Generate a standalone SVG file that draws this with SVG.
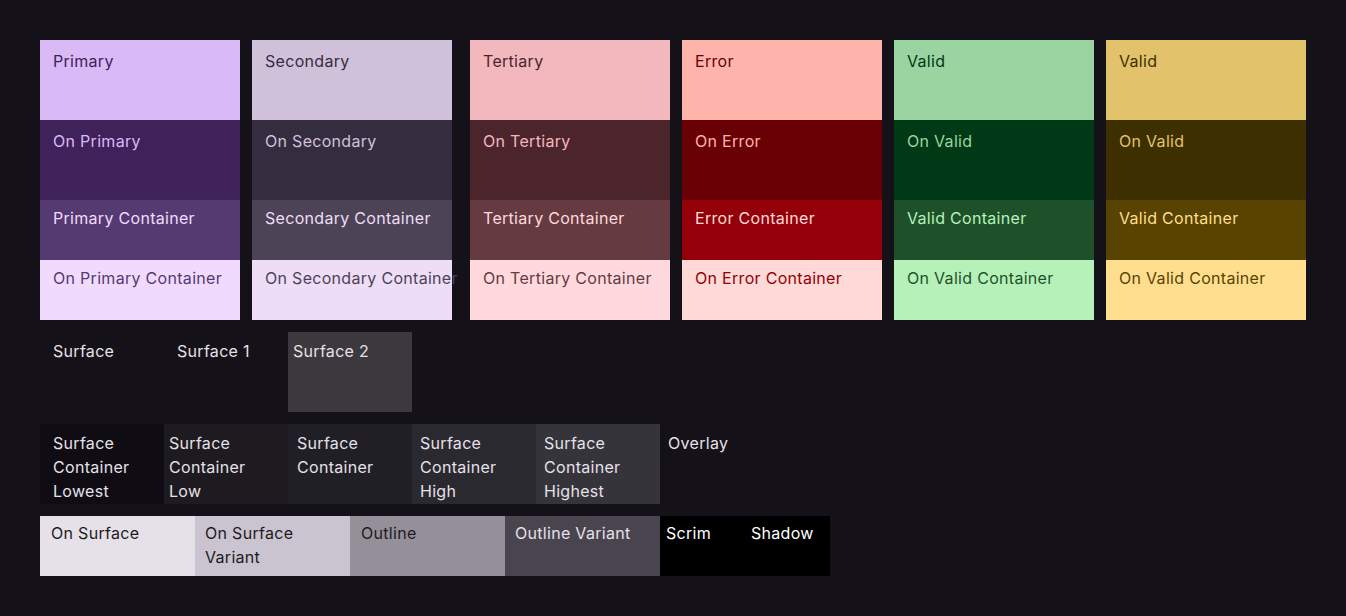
<svg xmlns="http://www.w3.org/2000/svg" width="1346" height="616" viewBox="0 0 1346 616">
<style>
text{font-family:Inter,"Noto Sans","Liberation Sans",sans-serif;font-size:16px;letter-spacing:0.3px}
</style>
<rect x="0" y="0" width="1346" height="616" fill="#141218"/>
<g id="primary">
<rect x="40" y="40" width="200" height="80" fill="#DAB9F7"/><text x="53" y="67" fill="#3E2259">Primary</text>
<rect x="40" y="120" width="200" height="80" fill="#3E2259"/><text x="53" y="147" fill="#DAB9F7">On Primary</text>
<rect x="40" y="200" width="200" height="60" fill="#553A71"/><text x="53" y="224" fill="#F0DBFF">Primary Container</text>
<rect x="40" y="260" width="200" height="60" fill="#F0DBFF"/><text x="53" y="284" fill="#553A71">On Primary Container</text>
</g>
<g id="secondary">
<rect x="252" y="40" width="200" height="80" fill="#D0C1DA"/><text x="265" y="67" fill="#362C3F">Secondary</text>
<rect x="252" y="120" width="200" height="80" fill="#362C3F"/><text x="265" y="147" fill="#D0C1DA">On Secondary</text>
<rect x="252" y="200" width="200" height="60" fill="#4D4357"/><text x="265" y="224" fill="#EDDDF6">Secondary Container</text>
<rect x="252" y="260" width="200" height="60" fill="#EDDDF6"/><text x="265" y="284" fill="#4D4357">On Secondary Container</text>
</g>
<g id="tertiary">
<rect x="470" y="40" width="200" height="80" fill="#F3B7BE"/><text x="483" y="67" fill="#4B252B">Tertiary</text>
<rect x="470" y="120" width="200" height="80" fill="#4B252B"/><text x="483" y="147" fill="#F3B7BE">On Tertiary</text>
<rect x="470" y="200" width="200" height="60" fill="#653B41"/><text x="483" y="224" fill="#FFD9DD">Tertiary Container</text>
<rect x="470" y="260" width="200" height="60" fill="#FFD9DD"/><text x="483" y="284" fill="#653B41">On Tertiary Container</text>
</g>
<g id="error">
<rect x="682" y="40" width="200" height="80" fill="#FFB4AB"/><text x="695" y="67" fill="#690005">Error</text>
<rect x="682" y="120" width="200" height="80" fill="#690005"/><text x="695" y="147" fill="#FFB4AB">On Error</text>
<rect x="682" y="200" width="200" height="60" fill="#93000A"/><text x="695" y="224" fill="#FFDAD6">Error Container</text>
<rect x="682" y="260" width="200" height="60" fill="#FFDAD6"/><text x="695" y="284" fill="#93000A">On Error Container</text>
</g>
<g id="valid-green">
<rect x="894" y="40" width="200" height="80" fill="#9BD4A0"/><text x="907" y="67" fill="#003915">Valid</text>
<rect x="894" y="120" width="200" height="80" fill="#003915"/><text x="907" y="147" fill="#9BD4A0">On Valid</text>
<rect x="894" y="200" width="200" height="60" fill="#1E5129"/><text x="907" y="224" fill="#B6F1BA">Valid Container</text>
<rect x="894" y="260" width="200" height="60" fill="#B6F1BA"/><text x="907" y="284" fill="#1E5129">On Valid Container</text>
</g>
<g id="valid-yellow">
<rect x="1106" y="40" width="200" height="80" fill="#E2C36C"/><text x="1119" y="67" fill="#3D2F00">Valid</text>
<rect x="1106" y="120" width="200" height="80" fill="#3D2F00"/><text x="1119" y="147" fill="#E2C36C">On Valid</text>
<rect x="1106" y="200" width="200" height="60" fill="#584400"/><text x="1119" y="224" fill="#FFDF8F">Valid Container</text>
<rect x="1106" y="260" width="200" height="60" fill="#FFDF8F"/><text x="1119" y="284" fill="#584400">On Valid Container</text>
</g>
<g id="surface">
<rect x="40" y="332" width="124" height="80" fill="#141218"/><text x="53" y="357" fill="#E6E0E9">Surface</text>
</g>
<g id="surface-1">
<rect x="164" y="332" width="124" height="80" fill="#141218"/><text x="177" y="357" fill="#E6E0E9">Surface 1</text>
</g>
<g id="surface-2">
<rect x="288" y="332" width="124" height="80" fill="#3B383E"/><text x="293" y="357" fill="#E6E0E9">Surface 2</text>
</g>
<g id="surface-container-lowest">
<rect x="40" y="424" width="124" height="80" fill="#0F0D13"/>
<text fill="#E6E0E9"><tspan x="53" y="449">Surface</tspan><tspan x="53" y="473">Container</tspan><tspan x="53" y="497">Lowest</tspan></text>
</g>
<g id="surface-container-low">
<rect x="164" y="424" width="124" height="80" fill="#1D1B20"/>
<text fill="#E6E0E9"><tspan x="169" y="449">Surface</tspan><tspan x="169" y="473">Container</tspan><tspan x="169" y="497">Low</tspan></text>
</g>
<g id="surface-container">
<rect x="288" y="424" width="124" height="80" fill="#211F26"/>
<text fill="#E6E0E9"><tspan x="297" y="449">Surface</tspan><tspan x="297" y="473">Container</tspan></text>
</g>
<g id="surface-container-high">
<rect x="412" y="424" width="124" height="80" fill="#2B2930"/>
<text fill="#E6E0E9"><tspan x="420" y="449">Surface</tspan><tspan x="420" y="473">Container</tspan><tspan x="420" y="497">High</tspan></text>
</g>
<g id="surface-container-highest">
<rect x="536" y="424" width="124" height="80" fill="#36343B"/>
<text fill="#E6E0E9"><tspan x="544" y="449">Surface</tspan><tspan x="544" y="473">Container</tspan><tspan x="544" y="497">Highest</tspan></text>
</g>
<g id="overlay">
<text x="668" y="449" fill="#E6E0E9">Overlay</text>
</g>
<g id="on-surface">
<rect x="40" y="516" width="155" height="60" fill="#E6E0E9"/><text x="51" y="539" fill="#1D1B20">On Surface</text>
</g>
<g id="on-surface-variant">
<rect x="195" y="516" width="155" height="60" fill="#CAC4D0"/>
<text fill="#1D1B20"><tspan x="205" y="539">On Surface</tspan><tspan x="205" y="563">Variant</tspan></text>
</g>
<g id="outline">
<rect x="350" y="516" width="155" height="60" fill="#948F99"/><text x="361" y="539" fill="#1D1B20">Outline</text>
</g>
<g id="outline-variant">
<rect x="505" y="516" width="155" height="60" fill="#49454F"/><text x="515" y="539" fill="#E6E0E9">Outline Variant</text>
</g>
<g id="scrim">
<rect x="660" y="516" width="85" height="60" fill="#000000"/><text x="666" y="539" fill="#FFFFFF">Scrim</text>
</g>
<g id="shadow">
<rect x="745" y="516" width="85" height="60" fill="#000000"/><text x="751" y="539" fill="#FFFFFF">Shadow</text>
</g>
<g id="connectors"/>
</svg>
